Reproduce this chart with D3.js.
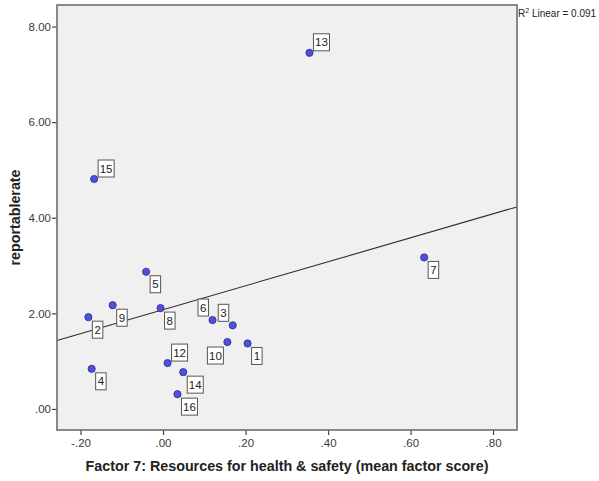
<!DOCTYPE html>
<html><head><meta charset="utf-8">
<script src="https://cdn.jsdelivr.net/npm/d3@7"></script>
<style>
html,body{margin:0;padding:0;background:#fff;}
svg{display:block;font-family:"Liberation Sans",Arial,sans-serif;}
</style></head>
<body><svg id="c" width="599" height="481"></svg>
<script>
const caseIds = [1,2,3,4,5,6,7,8,9,10,12,13,14,15,16];
const factor7 = [0.205,-0.181,0.169,-0.173,-0.041,0.120,0.633,-0.006,-0.122,0.156,0.011,0.355,0.049,-0.167,0.035];
const reportableRate = [1.37,1.92,1.75,0.84,2.87,1.86,3.17,2.11,2.17,1.40,0.96,7.45,0.77,4.81,0.31];
const labelSide = ["se","se","nw","se","se","nw","se","se","se","sw","ne","ne","se","ne","se"];
const xTicks = [-0.2,0,0.2,0.4,0.6,0.8];
const yTicks = [0,2,4,6,8];
const xTitle = "Factor 7: Resources for health & safety (mean factor score)";
const yTitle = "reportablerate";

const svg = d3.select("#c");
const L=57,R=517,T=5,B=430;
const x = d3.scaleLinear().domain([-0.257,0.858]).range([L,R]);
const y = d3.scaleLinear().domain([-0.44,8.45]).range([B,T]);
const fmt = v => { const s=Math.abs(v).toFixed(2).replace(/^0\./,"."); return (v<0?"-":"")+s; };

svg.append("rect").attr("x",L).attr("y",T).attr("width",R-L).attr("height",B-T)
  .attr("fill","#f0f0f0");

// regression
const data = caseIds.map((id,i)=>({id,x:factor7[i],y:reportableRate[i],side:labelSide[i]}));
const mx=d3.mean(data,d=>d.x), my=d3.mean(data,d=>d.y);
const sxy=d3.sum(data,d=>(d.x-mx)*(d.y-my)), sxx=d3.sum(data,d=>(d.x-mx)**2), syy=d3.sum(data,d=>(d.y-my)**2);
const slope=sxy/sxx, icpt=my-slope*mx, r2=sxy*sxy/(sxx*syy);
const xd=x.domain();
svg.append("line").attr("x1",x(xd[0])).attr("y1",y(icpt+slope*xd[0]))
  .attr("x2",x(xd[1])).attr("y2",y(icpt+slope*xd[1]))
  .attr("stroke","#2a2a2a").attr("stroke-width",1.1);

// axes
const gx = svg.append("g").attr("transform",`translate(0,${B})`)
  .call(d3.axisBottom(x).tickValues(xTicks).tickFormat(fmt).tickSize(5).tickPadding(4));
const gy = svg.append("g").attr("transform",`translate(${L},0)`)
  .call(d3.axisLeft(y).tickValues(yTicks).tickFormat(fmt).tickSize(5).tickPadding(1));
[gx,gy].forEach(g=>{
  g.select(".domain").remove();
  g.selectAll(".tick line").attr("stroke","#444").attr("stroke-width",1.2);
  g.selectAll(".tick text").attr("fill","#3a3a3a").style("font-size","11.5px");
});
svg.append("rect").attr("x",L).attr("y",T).attr("width",R-L).attr("height",B-T)
  .attr("fill","none").attr("stroke","#6e6e6e").attr("stroke-width",1.6);

// points
svg.append("g").selectAll("circle").data(data).join("circle")
  .attr("cx",d=>x(d.x)).attr("cy",d=>y(d.y)).attr("r",3.6)
  .attr("fill","#5050dc").attr("stroke","#2a2a80").attr("stroke-width",0.8);

// labels
const lg = svg.append("g");
data.forEach(d=>{
  const px=x(d.x), py=y(d.y);
  const w = String(d.id).length>1?16:10.5, h=17;
  let bx,by;
  if(d.side==="ne"){bx=px+4;by=py-2-h;}
  else if(d.side==="se"){bx=px+4;by=py+4;}
  else if(d.side==="nw"){bx=px-4-w;by=py-4-h;}
  else {bx=px-4-w;by=py+5;}
  lg.append("rect").attr("x",bx).attr("y",by).attr("width",w).attr("height",h)
    .attr("fill","#fff").attr("stroke","#555").attr("stroke-width",1);
  lg.append("text").attr("x",bx+w/2).attr("y",by+h/2+4).attr("text-anchor","middle")
    .style("font-size","11.5px").attr("fill","#222").text(d.id);
});

// R2 text
const rt = svg.append("text").attr("x",R+1).attr("y",17).style("font-size","10px").attr("fill","#222");
rt.append("tspan").text("R");
rt.append("tspan").attr("dy",-4).style("font-size","7px").text("2");
rt.append("tspan").attr("dy",4).text(" Linear = "+d3.format(".3f")(r2));

// titles
svg.append("text").attr("x",(L+R)/2).attr("y",471).attr("text-anchor","middle")
  .style("font-size","14.3px").style("font-weight","bold").attr("fill","#222").text(xTitle);
svg.append("text").attr("transform",`translate(20,${(T+B)/2}) rotate(-90)`).attr("text-anchor","middle")
  .style("font-size","14.3px").style("font-weight","bold").attr("fill","#222").text(yTitle);
</script></body></html>
